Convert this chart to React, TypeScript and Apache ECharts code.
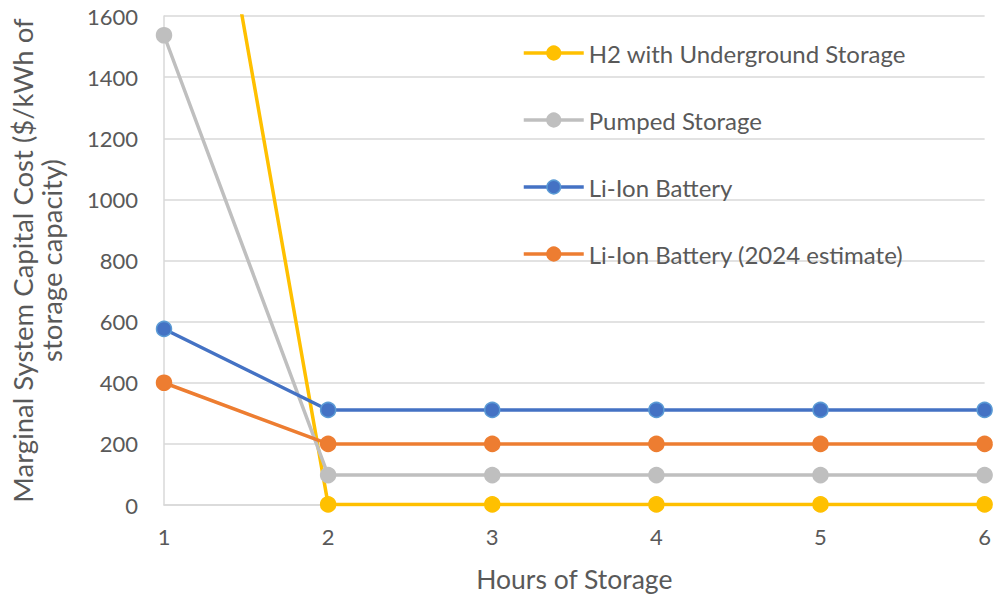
import React, { useEffect, useRef } from "react";
import * as echarts from "echarts";

const hours = [1, 2, 3, 4, 5, 6];
const h2Underground = [3050, 2, 2, 2, 2, 2];
const pumpedStorage = [1537, 98, 98, 98, 98, 98];
const liIonBattery = [576, 311, 311, 311, 311, 311];
const liIon2024 = [400, 200, 200, 200, 200, 200];
const seriesNames = [
  "H2 with Underground Storage",
  "Pumped Storage",
  "Li-Ion Battery",
  "Li-Ion Battery (2024 estimate)",
];

const FONT = "Lato";
const TXT = "#595959";

export default function App() {
  const ref = useRef<HTMLDivElement>(null);
  useEffect(() => {
    if (!ref.current) return;
    const chart = echarts.init(ref.current, undefined, { renderer: "svg" });
    const mk = (name: string, vals: number[], color: string, border: string) => ({
      name,
      type: "line",
      data: hours.map((h, i) => [h, vals[i]]),
      symbol: "circle",
      symbolSize: 15,
      clip: true,
      lineStyle: { color, width: 3.5 },
      itemStyle: { color, borderColor: border, borderWidth: 1.5 },
    });
    chart.setOption({
      animation: false,
      backgroundColor: "#ffffff",
      textStyle: { fontFamily: FONT },
      grid: { left: 164, right: 6, top: 16, bottom: 91, containLabel: false },
      legend: {
        orient: "vertical",
        left: 517,
        top: 36,
        itemWidth: 60,
        itemHeight: 17,
        itemGap: 43,
        itemStyle: { borderWidth: 1.5 },
        lineStyle: { width: 3.5 },
        textStyle: { fontFamily: FONT, fontSize: 24, color: TXT, padding: [0, 0, 0, 0] },
        data: seriesNames,
      },
      xAxis: {
        type: "value",
        min: 1,
        max: 6,
        interval: 1,
        name: "Hours of Storage",
        nameLocation: "middle",
        nameGap: 60,
        nameTextStyle: { fontFamily: FONT, fontSize: 26.5, color: TXT },
        axisLine: { show: true, lineStyle: { color: "#D9D9D9", width: 1.5 } },
        axisTick: { show: false },
        splitLine: { show: false },
        axisLabel: { fontFamily: FONT, fontSize: 22, color: TXT, margin: 20 },
      },
      yAxis: {
        type: "value",
        min: 0,
        max: 1600,
        interval: 200,
        name: "Marginal System Capital Cost ($/kWh of\nstorage capacity)",
        nameLocation: "middle",
        nameRotate: 90,
        nameGap: 98,
        nameTextStyle: { fontFamily: FONT, fontSize: 27.5, color: TXT, lineHeight: 29 },
        axisLine: { show: true, lineStyle: { color: "#D9D9D9", width: 1.5 } },
        axisTick: { show: false },
        splitLine: { show: true, lineStyle: { color: "#D9D9D9", width: 1.5 } },
        axisLabel: {
          fontFamily: FONT,
          fontSize: 22,
          color: TXT,
          margin: 26,
          formatter: (v: number) => String(v),
        },
      },
      series: [
        mk(seriesNames[0], h2Underground, "#FFC000", "#FFC000"),
        mk(seriesNames[1], pumpedStorage, "#BFBFBF", "#BFBFBF"),
        mk(seriesNames[2], liIonBattery, "#4472C4", "#5B9BD5"),
        mk(seriesNames[3], liIon2024, "#ED7D31", "#ED7D31"),
      ],
    });
    return () => chart.dispose();
  }, []);
  return <div ref={ref} style={{ width: 994, height: 597, position: "absolute", left: 0, top: 0 }} />;
}
